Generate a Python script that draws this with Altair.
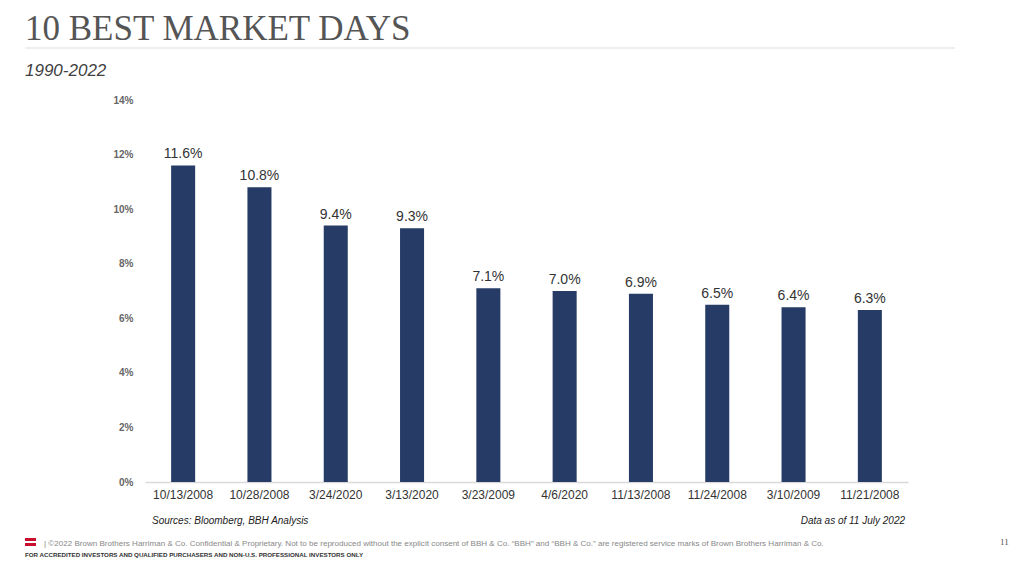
import altair as alt
import pandas as pd

dates = ["10/13/2008", "10/28/2008", "3/24/2020", "3/13/2020", "3/23/2009",
         "4/6/2020", "11/13/2008", "11/24/2008", "3/10/2009", "11/21/2008"]
returns = [11.6, 10.8, 9.4, 9.3, 7.1, 7.0, 6.9, 6.5, 6.4, 6.3]
y_ticks = [0, 2, 4, 6, 8, 10, 12, 14]

title_text = "10 BEST MARKET DAYS"
subtitle_text = "1990-2022"
source_text = "Sources: Bloomberg, BBH Analysis"
asof_text = "Data as of 11 July 2022"
footer1 = ("|  \u00a92022 Brown Brothers Harriman & Co. Confidential & Proprietary. Not to be reproduced "
           "without the explicit consent of BBH & Co. \u201cBBH\u201d and \u201cBBH & Co.\u201d are registered "
           "service marks of Brown Brothers Harriman & Co.")
footer2 = "FOR ACCREDITED INVESTORS AND QUALIFIED PURCHASERS AND NON-U.S. PROFESSIONAL INVESTORS ONLY"
page_no = "11"

df = pd.DataFrame({"date": dates, "ret": returns})
df["label"] = [f"{v:.1f}%" for v in returns]

W, H = 763, 382

x = alt.X("date:N", sort=dates, title=None,
          scale=alt.Scale(paddingInner=0.685, paddingOuter=0.3425),
          axis=alt.Axis(labelAngle=0, labelFontSize=12, labelColor="#333333",
                        labelFont="Liberation Sans", labelPadding=7, ticks=False,
                        domainColor="#d9d9d9", domainWidth=1.5))
y = alt.Y("ret:Q", title=None,
          scale=alt.Scale(domain=[0, 14], nice=False),
          axis=alt.Axis(values=y_ticks, labelExpr="datum.value + '%'", grid=False,
                        domain=False, ticks=False, labelFontSize=10, labelFontWeight="bold",
                        labelColor="#666666", labelFont="Liberation Sans", labelPadding=12))

bars = alt.Chart(df).mark_bar(color="#263c66").encode(x=x, y=y)
labels = alt.Chart(df).mark_text(dy=-4, fontSize=14, color="#333333",
                                 font="Liberation Sans", baseline="bottom").encode(
    x=alt.X("date:N", sort=dates), y="ret:Q", text="label:N")

def txt(s, xv, yv, **kw):
    return alt.Chart(pd.DataFrame({"t": [s]})).mark_text(**kw).encode(
        x=alt.value(xv), y=alt.value(yv), text="t:N")

title = txt(title_text, -120, -60, align="left", baseline="alphabetic", fontSize=35,
            font="Liberation Serif", color="#555555")
rule = alt.Chart(pd.DataFrame({"a": [0]})).mark_rule(color="#dddddd", strokeWidth=1).encode(
    x=alt.value(-120), x2=alt.value(810), y=alt.value(-52))
subtitle = txt(subtitle_text, -120, -24, align="left", baseline="alphabetic", fontSize=17,
               font="Liberation Sans", fontStyle="italic", color="#404040")
source = txt(source_text, 7, 424, align="left", baseline="alphabetic", fontSize=10,
             font="Liberation Sans", fontStyle="italic", color="#222222")
asof = txt(asof_text, 760, 424, align="right", baseline="alphabetic", fontSize=10,
           font="Liberation Sans", fontStyle="italic", color="#222222")
f1 = txt(footer1, -101, 446, align="left", baseline="alphabetic", fontSize=8.05,
         font="Liberation Sans", color="#888888")
f2 = txt(footer2, -120, 457, align="left", baseline="alphabetic", fontSize=6.2,
         font="Liberation Sans", fontWeight="bold", color="#333333")
pg = txt(page_no, 855, 445, align="left", baseline="alphabetic", fontSize=9,
         font="Liberation Serif", color="#555555")
flag1 = alt.Chart(pd.DataFrame({"a": [0]})).mark_rect(color="#c8102e").encode(
    x=alt.value(-120), x2=alt.value(-109), y=alt.value(438), y2=alt.value(441))
flag2 = alt.Chart(pd.DataFrame({"a": [0]})).mark_rect(color="#c8102e").encode(
    x=alt.value(-120), x2=alt.value(-109), y=alt.value(443), y2=alt.value(446))

chart = alt.layer(bars, labels, title, rule, subtitle, source, asof, f1, f2, pg, flag1, flag2).properties(
    width=W, height=H,
    background="white",
    autosize=alt.AutoSizeParams(type="none"),
    padding={"left": 137, "top": 92, "right": 108, "bottom": 80},
).configure_view(stroke=None, strokeWidth=0)

chart.save("out.html", embed_options={"renderer": "svg", "actions": False})
